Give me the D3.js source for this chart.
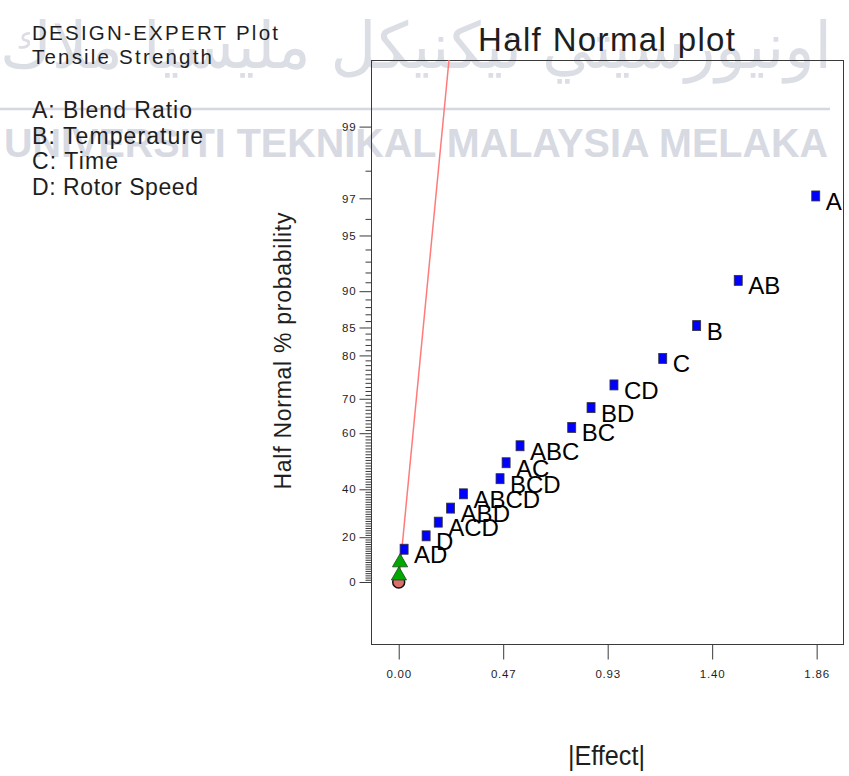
<!DOCTYPE html>
<html>
<head>
<meta charset="utf-8">
<script src="https://cdn.jsdelivr.net/npm/d3@7"></script>
<style>
  body { margin: 0; background: #fff; }
  svg { display: block; }
  text { font-family: "Liberation Sans", Arial, Helvetica, sans-serif; }
</style>
</head>
<body>
<svg id="chart" width="849" height="776"></svg>
<script>
// ---- data ---------------------------------------------------------------
const effectNames = ["A", "AB", "B", "C", "CD", "BD", "BC", "ABC", "AC", "BCD", "ABCD", "ABD", "ACD", "D", "AD"];
const effectSizes = [1.856, 1.511, 1.326, 1.175, 0.958, 0.856, 0.770, 0.540, 0.478, 0.451, 0.288, 0.231, 0.176, 0.122, 0.024];
const effectProbs = [97.1, 91.2, 85.3, 79.4, 73.5, 67.6, 61.8, 55.9, 50.0, 44.1, 38.2, 32.4, 26.5, 20.6, 14.7];

// error estimates (triangles) and the origin marker (circle)
const errorSizes = [0.006, 0.001];
const errorProbs = [8.8, 2.9];
const originSizes = [0];
const originProbs = [0];

// reference line through the error terms: |effect| = slope * z
const fitSlope = 0.0758;

const xTickValues = [0, 0.465, 0.93, 1.395, 1.86];
const xTickLabels = ["0.00", "0.47", "0.93", "1.40", "1.86"];
const yMajorTicks = [0, 20, 40, 60, 70, 80, 85, 90, 95, 97, 99];
const yTickLabels = ["0", "20", "40", "60", "70", "80", "85", "90", "95", "97", "99"];
const yMinorTicks = d3.range(1, 100).filter(p => !yMajorTicks.includes(p));

const headerLines = ["DESIGN-EXPERT Plot", "Tensile Strength"];
const factorLines = ["A: Blend Ratio", "B: Temperature", "C: Time", "D: Rotor Speed"];

// ---- half-normal probability transform ----------------------------------
// inverse standard normal CDF (Acklam's rational approximation)
function probit(p) {
  const a = [-3.969683028665376e+01, 2.209460984245205e+02, -2.759285104469687e+02,
             1.383577518672690e+02, -3.066479806614716e+01, 2.506628277459239e+00];
  const b = [-5.447609879822406e+01, 1.615858368580409e+02, -1.556989798598866e+02,
             6.680131188771972e+01, -1.328068155288572e+01];
  const c = [-7.784894002430293e-03, -3.223964580411365e-01, -2.400758277161838e+00,
             -2.549732539343734e+00, 4.374664141464968e+00, 2.938163982698783e+00];
  const d = [7.784695709041462e-03, 3.224671290700398e-01, 2.445134137142996e+00,
             3.754408661907416e+00];
  const pl = 0.02425, ph = 1 - pl;
  let q, r;
  if (p < pl) {
    q = Math.sqrt(-2 * Math.log(p));
    return (((((c[0]*q+c[1])*q+c[2])*q+c[3])*q+c[4])*q+c[5]) /
           ((((d[0]*q+d[1])*q+d[2])*q+d[3])*q+1);
  }
  if (p <= ph) {
    q = p - 0.5; r = q * q;
    return (((((a[0]*r+a[1])*r+a[2])*r+a[3])*r+a[4])*r+a[5])*q /
           (((((b[0]*r+b[1])*r+b[2])*r+b[3])*r+b[4])*r+1);
  }
  q = Math.sqrt(-2 * Math.log(1 - p));
  return -(((((c[0]*q+c[1])*q+c[2])*q+c[3])*q+c[4])*q+c[5]) /
          ((((d[0]*q+d[1])*q+d[2])*q+d[3])*q+1);
}
const halfZ = pct => pct <= 0 ? 0 : probit(0.5 + pct / 200);

// ---- layout ------------------------------------------------------------
const svg = d3.select("#chart");
const frame = { left: 371, right: 843, top: 60, bottom: 644 };

const x = d3.scaleLinear().domain([-0.1233, 1.9773]).range([frame.left, frame.right]);
const y = d3.scaleLinear().domain([-0.3507, 2.9525]).range([frame.bottom, frame.top]);

const ink = "#1e1e1e";

// ---- watermark (behind the chart) ----------------------------------------
const wm = svg.append("g").attr("class", "watermark");
wm.append("text")
  .attr("x", 0).attr("y", 68)
  .attr("textLength", 832).attr("lengthAdjust", "spacingAndGlyphs")
  .style("font-family", "'DejaVu Sans', sans-serif")
  .style("font-size", "64px")
  .attr("fill", "#dcdee5")
  .text("اونيورسيتي تيكنيكل مليسيا ملاك");
wm.append("line")
  .attr("x1", 0).attr("x2", 830).attr("y1", 109).attr("y2", 109)
  .attr("stroke", "#d5d8e0").attr("stroke-width", 2.5);
wm.append("text")
  .attr("x", 4).attr("y", 157)
  .attr("textLength", 824).attr("lengthAdjust", "spacingAndGlyphs")
  .style("font-size", "41px").style("font-weight", "bold")
  .attr("fill", "#d7dae2")
  .text("UNIVERSITI TEKNIKAL MALAYSIA MELAKA");

// ---- side notes --------------------------------------------------------
const headerLen = [246, 180];
svg.append("g").selectAll("text").data(headerLines).join("text")
  .attr("x", 32).attr("y", (d, i) => 40 + i * 24)
  .attr("textLength", (d, i) => headerLen[i]).attr("lengthAdjust", "spacing")
  .style("font-size", "20.5px").attr("fill", ink)
  .text(d => d);

const factorLen = [160, 171, 86, 166];
svg.append("g").selectAll("text").data(factorLines).join("text")
  .attr("x", 32).attr("y", (d, i) => 118 + i * 25.7)
  .attr("textLength", (d, i) => factorLen[i]).attr("lengthAdjust", "spacing")
  .style("font-size", "23px").attr("fill", ink)
  .text(d => d);

// ---- title -------------------------------------------------------------
svg.append("text")
  .attr("x", 478).attr("y", 51)
  .attr("textLength", 257).attr("lengthAdjust", "spacing")
  .style("font-size", "33px").attr("fill", ink)
  .text("Half Normal plot");

// ---- frame -------------------------------------------------------------
svg.append("rect")
  .attr("x", frame.left + 0.5).attr("y", frame.top + 0.5)
  .attr("width", frame.right - frame.left).attr("height", frame.bottom - frame.top)
  .attr("fill", "none").attr("stroke", "#3a3a3a").attr("stroke-width", 1);

// ---- axes --------------------------------------------------------------
const yAxisMajor = d3.axisLeft(y)
  .tickValues(yMajorTicks.map(halfZ))
  .tickFormat((d, i) => yTickLabels[i])
  .tickSize(12).tickSizeOuter(0).tickPadding(3);
const gy = svg.append("g").attr("transform", `translate(${frame.left + 0.5},0)`).call(yAxisMajor);
gy.select(".domain").remove();

const yAxisMinor = d3.axisLeft(y)
  .tickValues(yMinorTicks.map(halfZ))
  .tickFormat("")
  .tickSize(6).tickSizeOuter(0);
const gyMinor = svg.append("g").attr("transform", `translate(${frame.left + 0.5},0)`).call(yAxisMinor);
gyMinor.select(".domain").remove();

const xAxis = d3.axisBottom(x)
  .tickValues(xTickValues)
  .tickFormat((d, i) => xTickLabels[i])
  .tickSize(15).tickSizeOuter(0).tickPadding(10);
const gx = svg.append("g").attr("transform", `translate(0,${frame.bottom + 0.5})`).call(xAxis);
gx.select(".domain").remove();

[gy, gyMinor, gx].forEach(g => {
  g.selectAll("line").attr("stroke", "#3a3a3a");
  g.selectAll("text")
    .style("font-family", "'Liberation Sans', Arial, sans-serif")
    .style("font-size", "11.5px").style("letter-spacing", "0.8px")
    .attr("fill", ink);
});

// axis titles
svg.append("text")
  .attr("text-anchor", "middle")
  .attr("transform", "translate(291,351) rotate(-90)")
  .attr("textLength", 277).attr("lengthAdjust", "spacing")
  .style("font-size", "23px").attr("fill", ink)
  .text("Half Normal % probability");

svg.append("text")
  .attr("x", 568).attr("y", 765)
  .attr("textLength", 77).attr("lengthAdjust", "spacingAndGlyphs")
  .style("font-size", "27px").attr("fill", ink)
  .text("|Effect|");

// ---- reference line ----------------------------------------------------
const zTop = y.domain()[1];
svg.append("line")
  .attr("x1", x(0)).attr("y1", y(0))
  .attr("x2", x(fitSlope * zTop)).attr("y2", y(zTop))
  .attr("stroke", "#ff7b7b").attr("stroke-width", 1.5);

// ---- markers -----------------------------------------------------------
const effects = effectNames.map((n, i) => ({ name: n, size: effectSizes[i], prob: effectProbs[i] }));
const errors = errorSizes.map((s, i) => ({ size: s, prob: errorProbs[i] }));
const origins = originSizes.map((s, i) => ({ size: s, prob: originProbs[i] }));

svg.append("g").selectAll("circle").data(origins).join("circle")
  .attr("cx", d => x(d.size)).attr("cy", d => y(halfZ(d.prob)))
  .attr("r", 6)
  .attr("fill", "#d9706e").attr("stroke", "#111").attr("stroke-width", 1.5);

const tri = d3.symbol().type(d3.symbolTriangle).size(100);
svg.append("g").selectAll("path").data(errors).join("path")
  .attr("transform", d => `translate(${x(d.size)},${y(halfZ(d.prob))})`)
  .attr("d", tri)
  .attr("fill", "#00a800").attr("stroke", "#1a4a1a").attr("stroke-width", 0.8);

const gEff = svg.append("g");
gEff.selectAll("rect").data(effects).join("rect")
  .attr("x", d => x(d.size) - 4).attr("y", d => y(halfZ(d.prob)) - 5)
  .attr("width", 8).attr("height", 10)
  .attr("fill", "#0000ff").attr("stroke", "#333").attr("stroke-width", 0.8);

gEff.selectAll("text").data(effects).join("text")
  .attr("x", d => x(d.size) + 10).attr("y", d => y(halfZ(d.prob)) + 14)
  .style("font-size", "24px").attr("fill", "#000")
  .text(d => d.name);
</script>
</body>
</html>
